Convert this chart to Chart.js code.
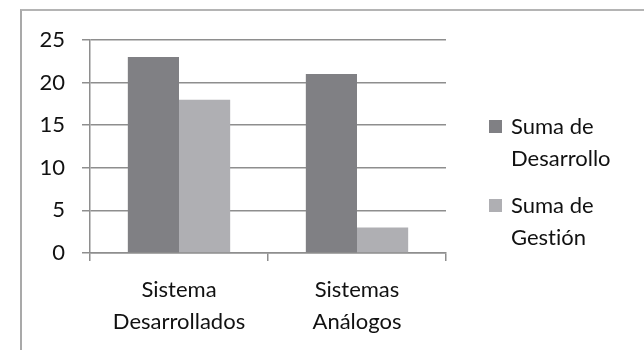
<!DOCTYPE html>
<html>
<head>
<meta charset="utf-8">
<script src="https://cdn.jsdelivr.net/npm/chart.js@4/dist/chart.umd.min.js"></script>
<style>
  html, body { margin: 0; padding: 0; background: #fff; }
  #wrap { position: relative; width: 644px; height: 350px; overflow: hidden; }
  #frame { position: absolute; left: 20px; top: 9px; width: 640px; height: 360px;
           border-left: 2px solid #a9a9a9; border-top: 2px solid #b4b4b4; }
  canvas { position: absolute; left: 0; top: 0; }
  #legend { position: absolute; left: 489px; top: 110px; font-family: Lato, "Open Sans", sans-serif;
            font-size: 22px; color: #111; line-height: 32px; font-variant-ligatures: none; }
  .item { position: relative; padding-left: 22px; width: 130px; margin-bottom: 15px; }
  .sw { position: absolute; left: 0; top: 10px; width: 13px; height: 13px; }
</style>
</head>
<body>
<div id="wrap">
  <div id="frame"></div>
  <canvas id="c" width="644" height="350"></canvas>
  <div id="legend"></div>
</div>
<script>
const categories = [["Sistema", "Desarrollados"], ["Sistemas", "Análogos"]];
const seriesNames = [["Suma de", "Desarrollo"], ["Suma de", "Gestión"]];
const desarrollo = [23, 21];
const gestion = [18, 3];
const yTicks = [0, 5, 10, 15, 20, 25];
const seriesColors = ["#808084", "#afafb3"];

const FONT = "Lato, 'Open Sans', sans-serif";
const gridColor = "#8e8e8e";

new Chart(document.getElementById("c"), {
  type: "bar",
  data: {
    labels: categories,
    datasets: [
      { label: seriesNames[0].join(" "), data: desarrollo, backgroundColor: seriesColors[0] },
      { label: seriesNames[1].join(" "), data: gestion, backgroundColor: seriesColors[1] }
    ]
  },
  options: {
    responsive: false,
    animation: false,
    events: [],
    layout: { padding: { left: 20, top: 40, right: 198, bottom: 0 } },
    datasets: { bar: { barPercentage: 1.0, categoryPercentage: 0.575 } },
    plugins: { legend: { display: false }, tooltip: { enabled: false } },
    scales: {
      y: {
        min: 0, max: 25,
        afterBuildTicks: (s) => { s.ticks = yTicks.map(v => ({ value: v })); },
        afterFit: (s) => { s.width = 70; },
        ticks: { font: { family: FONT, size: 22 }, color: "#111", padding: 17 },
        grid: { color: gridColor, lineWidth: 1.5, tickLength: 8 },
        border: { display: true, color: gridColor, width: 1.5 }
      },
      x: {
        afterFit: (s) => { s.height = 97; },
        ticks: { font: { family: FONT, size: 22, lineHeight: 1.45 }, color: "#111", padding: 13 },
        grid: { offset: true, drawOnChartArea: false, color: gridColor, lineWidth: 1.5, tickLength: 8 },
        border: { display: true, color: gridColor, width: 1.5 }
      }
    }
  }
});

const legend = document.getElementById("legend");
seriesNames.forEach((lines, i) => {
  const it = document.createElement("div");
  it.className = "item";
  const sw = document.createElement("span");
  sw.className = "sw";
  sw.style.background = seriesColors[i];
  it.appendChild(sw);
  lines.forEach((ln, k) => {
    if (k) it.appendChild(document.createElement("br"));
    it.appendChild(document.createTextNode(ln));
  });
  legend.appendChild(it);
});
</script>
</body>
</html>
